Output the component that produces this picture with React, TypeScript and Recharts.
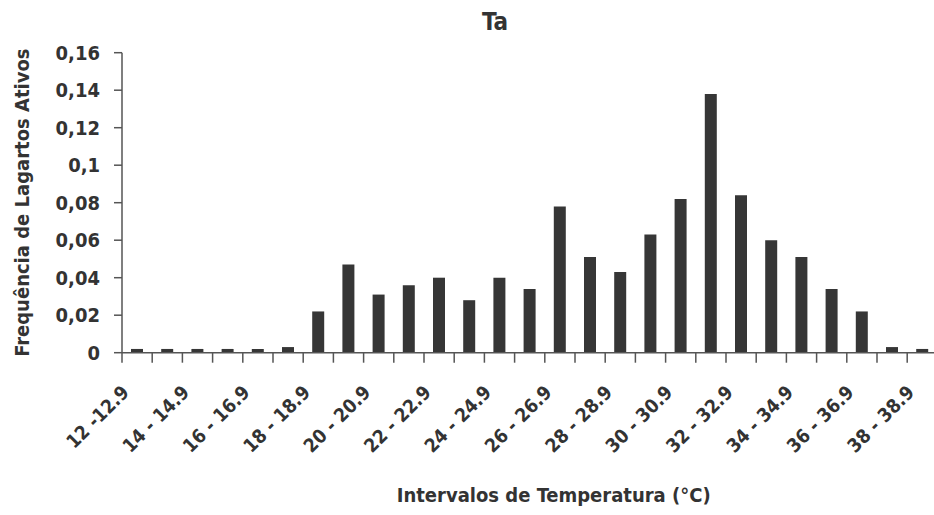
import React from 'react';
import { BarChart, Bar, XAxis, YAxis, Label } from 'recharts';

// temperature classes (°C)
const ranges = [
  '12 -12.9', '13 - 13.9', '14 - 14.9', '15 - 15.9', '16 - 16.9', '17 - 17.9',
  '18 - 18.9', '19 - 19.9', '20 - 20.9', '21 - 21.9', '22 - 22.9', '23 - 23.9',
  '24 - 24.9', '25 - 25.9', '26 - 26.9', '27 - 27.9', '28 - 28.9', '29 - 29.9',
  '30 - 30.9', '31 - 31.9', '32 - 32.9', '33 - 33.9', '34 - 34.9', '35 - 35.9',
  '36 - 36.9', '37 - 37.9', '38 - 38.9',
];

// frequency of active lizards per class
const freq = [
  0.002, 0.002, 0.002, 0.002, 0.002, 0.003,
  0.022, 0.047, 0.031, 0.036, 0.04, 0.028,
  0.04, 0.034, 0.078, 0.051, 0.043, 0.063,
  0.082, 0.138, 0.084, 0.06, 0.051, 0.034,
  0.022, 0.003, 0.002,
];

const yTicks = [0, 0.02, 0.04, 0.06, 0.08, 0.1, 0.12, 0.14, 0.16];

const data = ranges.map((range, i) => ({ range, freq: freq[i] }));

const FONT = "'DejaVu Sans Condensed', 'DejaVu Sans', sans-serif";
const TEXT = '#333';
const AXIS = '#555';

const CHART_W = 940;
const CHART_H = 515;
const Y_AXIS_W = 122;
const MARGIN_R = 2.6;
const PLOT_W = CHART_W - Y_AXIS_W - MARGIN_R;
const BAND = PLOT_W / ranges.length;

const fmtY = (v: number) => (v === 0 ? '0' : String(v).replace('.', ','));

const XTick = (props: any) => {
  const { x, y, payload, index } = props;
  const left = x - BAND / 2;
  const tx = x - 7;
  const ty = y + 41;
  return (
    <g>
      <line x1={left} y1={y} x2={left} y2={y + 10} stroke={AXIS} strokeWidth={1.5} />
      {index === ranges.length - 1 && (
        <line x1={x + BAND / 2} y1={y} x2={x + BAND / 2} y2={y + 10} stroke={AXIS} strokeWidth={1.5} />
      )}
      {index % 2 === 0 && (
        <text
          x={tx}
          y={ty}
          transform={`rotate(-45 ${tx} ${ty})`}
          textAnchor="end"
          fill={TEXT}
          fontSize={19}
          fontWeight="bold"
          fontFamily={FONT}
        >
          {payload.value}
        </text>
      )}
    </g>
  );
};

export default function App() {
  return (
    <div
      style={{
        position: 'absolute',
        left: 0,
        top: 0,
        width: 934,
        height: 515,
        overflow: 'hidden',
        background: '#fff',
        fontFamily: FONT,
      }}
    >
      <div
        style={{
          position: 'absolute',
          left: 445,
          top: 10,
          width: 100,
          textAlign: 'center',
          fontSize: 24,
          lineHeight: '24px',
          fontWeight: 'bold',
          color: TEXT,
        }}
      >
        Ta
      </div>
      <BarChart
        width={CHART_W}
        height={CHART_H}
        data={data}
        margin={{ top: 52.7, right: MARGIN_R, left: 0, bottom: 0 }}
      >
        <XAxis
          dataKey="range"
          interval={0}
          height={162.3}
          tickLine={false}
          tickSize={0}
          tickMargin={0}
          axisLine={{ stroke: AXIS, strokeWidth: 1.5 }}
          tick={XTick}
        >
          <Label
            value="Intervalos de Temperatura (°C)"
            position="insideBottom"
            offset={13}
            dx={24}
            fill={TEXT}
            fontSize={20}
            fontWeight="bold"
            fontFamily={FONT}
          />
        </XAxis>
        <YAxis
          width={Y_AXIS_W}
          domain={[0, 0.16]}
          ticks={yTicks}
          interval={0}
          tickFormatter={fmtY}
          tickSize={8}
          tickMargin={14}
          axisLine={{ stroke: AXIS, strokeWidth: 1.5 }}
          tickLine={{ stroke: AXIS, strokeWidth: 1.5 }}
          tick={{ fill: TEXT, fontSize: 20, fontWeight: 'bold', fontFamily: FONT }}
        >
          <Label
            value="Frequência de Lagartos Ativos"
            angle={-90}
            position="insideLeft"
            offset={22}
            textAnchor="middle"
            fill={TEXT}
            fontSize={20}
            fontWeight="bold"
            fontFamily={FONT}
          />
        </YAxis>
        <Bar dataKey="freq" fill="#363636" barSize={12} isAnimationActive={false} />
      </BarChart>
    </div>
  );
}
